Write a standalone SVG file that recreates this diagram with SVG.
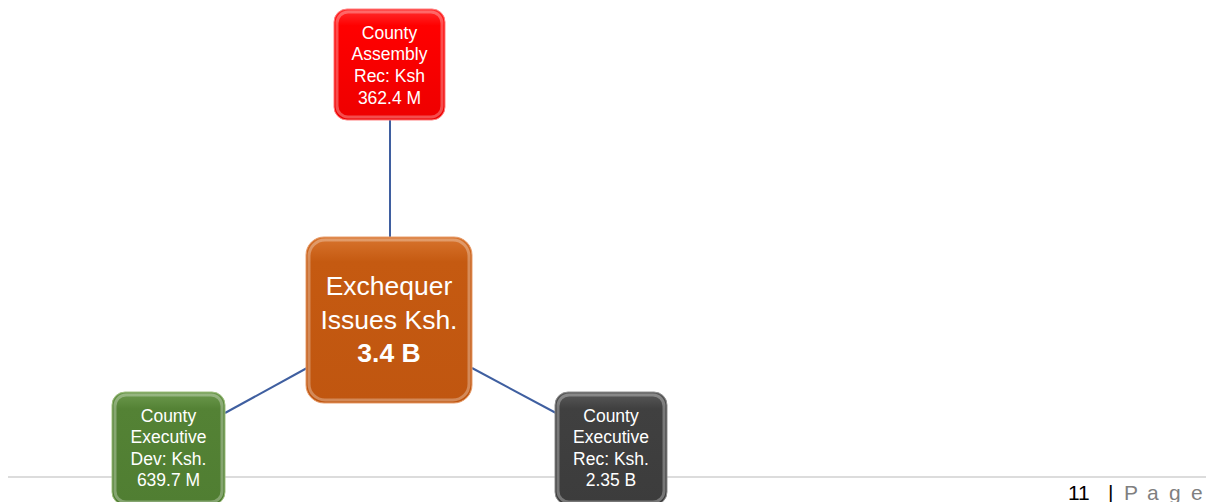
<svg xmlns="http://www.w3.org/2000/svg" width="1206" height="502" viewBox="0 0 1206 502">
<style>
.t{font-family:"Liberation Sans",Arial,sans-serif;fill:#fff;text-anchor:middle}
.s{font-size:17.5px}
.b{font-size:26.5px}
.hl{fill:none;stroke:#fff;stroke-opacity:0.3;stroke-width:3}
.con{stroke:#3F5FA0;stroke-width:2;fill:none}
.f{font-family:"Liberation Sans",Arial,sans-serif;font-size:21px}
</style>
<defs>
<linearGradient id="gR" x1="0" y1="0" x2="0" y2="1"><stop offset="0" stop-color="#FF3030"/><stop offset="0.15" stop-color="#FF0000"/><stop offset="1" stop-color="#EE0000"/></linearGradient>
<linearGradient id="gO" x1="0" y1="0" x2="0" y2="1"><stop offset="0" stop-color="#D8742E"/><stop offset="0.15" stop-color="#C55A11"/><stop offset="1" stop-color="#C05610"/></linearGradient>
<linearGradient id="gG" x1="0" y1="0" x2="0" y2="1"><stop offset="0" stop-color="#6D9A4E"/><stop offset="0.15" stop-color="#548235"/><stop offset="1" stop-color="#507E32"/></linearGradient>
<linearGradient id="gD" x1="0" y1="0" x2="0" y2="1"><stop offset="0" stop-color="#5A5A5A"/><stop offset="0.15" stop-color="#404040"/><stop offset="1" stop-color="#3C3C3C"/></linearGradient>
</defs>
<rect width="1206" height="502" fill="#fff"/>
<line x1="8" y1="477" x2="1206" y2="477" stroke="#D0D0D0" stroke-width="1.5"/>
<g id="connectors">
<line class="con" x1="390" y1="120" x2="390" y2="238"/>
<line class="con" x1="225" y1="413" x2="307" y2="368"/>
<line class="con" x1="472" y1="368" x2="556" y2="413"/>
</g>
<g id="assembly">
<rect x="334" y="9" width="111" height="111" rx="13" fill="url(#gR)" stroke="#FF8080" stroke-width="1"/>
<rect x="337" y="12" width="105" height="105" rx="11" class="hl"/>
<text class="t s" x="389.5" y="38.5">County</text>
<text class="t s" x="389.5" y="60">Assembly</text>
<text class="t s" x="389.5" y="82">Rec: Ksh</text>
<text class="t s" x="389.5" y="103.5">362.4 M</text>
</g>
<g id="exchequer">
<rect x="306" y="237" width="166" height="166" rx="18" fill="url(#gO)" stroke="#E8A070" stroke-width="1"/>
<rect x="309" y="240" width="160" height="160" rx="16" class="hl"/>
<text class="t b" x="389" y="295">Exchequer</text>
<text class="t b" x="389" y="329">Issues Ksh.</text>
<text class="t b" x="389" y="362" font-weight="bold">3.4 B</text>
</g>
<g id="exec-dev">
<rect x="112" y="392" width="113" height="113" rx="13" fill="url(#gG)" stroke="#A0C080" stroke-width="1"/>
<rect x="115" y="395" width="107" height="107" rx="11" class="hl"/>
<text class="t s" x="168.5" y="421.5">County</text>
<text class="t s" x="168.5" y="443">Executive</text>
<text class="t s" x="168.5" y="464.5">Dev: Ksh.</text>
<text class="t s" x="168.5" y="486">639.7 M</text>
</g>
<g id="exec-rec">
<rect x="555" y="392" width="112" height="113" rx="13" fill="url(#gD)" stroke="#909090" stroke-width="1"/>
<rect x="558" y="395" width="106" height="107" rx="11" class="hl"/>
<text class="t s" x="611" y="421.5">County</text>
<text class="t s" x="611" y="443">Executive</text>
<text class="t s" x="611" y="464.5">Rec: Ksh.</text>
<text class="t s" x="611" y="486">2.35 B</text>
</g>
<g id="footer">
<text class="f" x="1068" y="500" fill="#000">11</text>
<text class="f" x="1108" y="500" fill="#000">|</text>
<text class="f" y="500" fill="#7F7F7F"><tspan x="1124">P</tspan><tspan x="1147">a</tspan><tspan x="1169">g</tspan><tspan x="1191">e</tspan></text>
</g>
</svg>
